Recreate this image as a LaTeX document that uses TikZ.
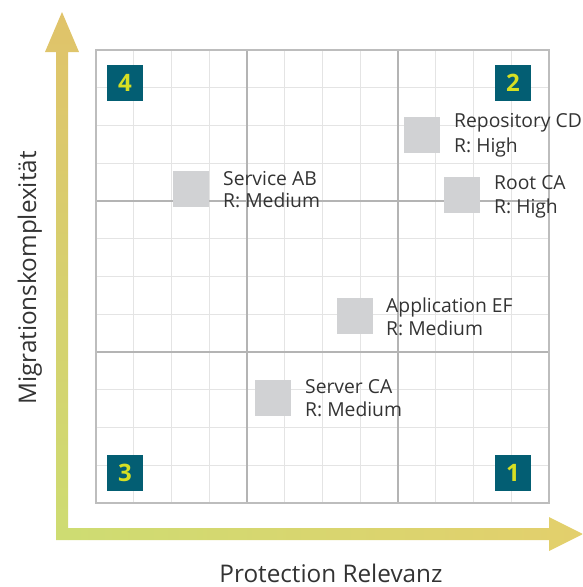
\documentclass[tikz,border=0pt]{standalone}
\usepackage{fontspec}
\setmainfont{Open Sans}
\definecolor{gridminor}{HTML}{E4E4E4}
\definecolor{gridmajor}{HTML}{B4B4B4}
\definecolor{gridborder}{HTML}{BDBDBD}
\definecolor{teal}{HTML}{035E73}
\definecolor{numyellow}{HTML}{D6DF23}
\definecolor{itemgray}{HTML}{D1D2D4}
\definecolor{txt}{HTML}{333333}
\definecolor{ag}{HTML}{CEDC72}
\definecolor{ay}{HTML}{E6E87B}
\definecolor{ao}{HTML}{E0C36A}
\definecolor{ar}{HTML}{E3CF6C}
\tikzset{
  quad/.style={fill=teal, minimum size=36pt, inner sep=0pt, text=numyellow, font=\fontsize{24}{24}\selectfont\bfseries},
  item/.style={fill=itemgray, minimum size=36pt, inner sep=0pt},
  lbl/.style={inner sep=0pt, anchor=base west, text=txt, font=\fontsize{19.3}{22}\selectfont},
  axlbl/.style={inner sep=0pt, anchor=base, text=txt, font=\fontsize{24.3}{28}\selectfont},
}
\begin{document}
\begin{tikzpicture}[x=1pt,y=-1pt]
\useasboundingbox (0,0) rectangle (583,587);
% grid
\foreach \i in {1,2,3,5,6,7,9,10,11} {
  \draw[gridminor, line width=1.2pt] ({96+\i*37.75},50) -- ({96+\i*37.75},503);
  \draw[gridminor, line width=1.2pt] (96,{50+\i*37.75}) -- (549,{50+\i*37.75});
}
\foreach \i in {4,8} {
  \draw[gridmajor, line width=1.2pt] ({96+\i*37.75},50) -- ({96+\i*37.75},503);
  \draw[gridmajor, line width=1.2pt] (96,{50+\i*37.75}) -- (549,{50+\i*37.75});
}
\draw[gridborder, line width=1.5pt] (96,50) rectangle (549,503);
% axes
\shade[bottom color=ag, middle color=ay, top color=ao]
  (56,540) -- (56,52) -- (45,52) -- (62,12) -- (79,52) -- (68,52) -- (68,540) -- cycle;
\shade[left color=ag, middle color=ay, right color=ar]
  (68,528) -- (549,528) -- (549,517) -- (583,534) -- (549,551) -- (549,540) -- (68,540) -- cycle;
\node[axlbl, rotate=90] (ylab) at (36,278) {Migrationskomplexität};
\node[axlbl] (xlab) at (331,582) {Protection Relevanz};
% quadrant numbers
\node[quad] (q4) at (125,83) {4};
\node[quad] (q2) at (513,83) {2};
\node[quad] (q3) at (125,473) {3};
\node[quad] (q1) at (513,473) {1};
% items
\node[item] (repo) at (422,135) {};
\node[lbl] (repoA) at (454,127) {Repository CD};
\node[lbl] (repoB) at (454,152) {R: High};
\node[item] (root) at (462,195) {};
\node[lbl] (rootA) at (494,189) {Root CA};
\node[lbl] (rootB) at (494,213) {R: High};
\node[item] (serv) at (191,189) {};
\node[lbl] (servA) at (223,185) {Service AB};
\node[lbl] (servB) at (223,207) {R: Medium};
\node[item] (app) at (355,316) {};
\node[lbl] (appA) at (386,312) {Application EF};
\node[lbl] (appB) at (386,335) {R: Medium};
\node[item] (srv) at (273,398) {};
\node[lbl] (srvA) at (305,393) {Server CA};
\node[lbl] (srvB) at (305,416) {R: Medium};
\end{tikzpicture}
\end{document}
